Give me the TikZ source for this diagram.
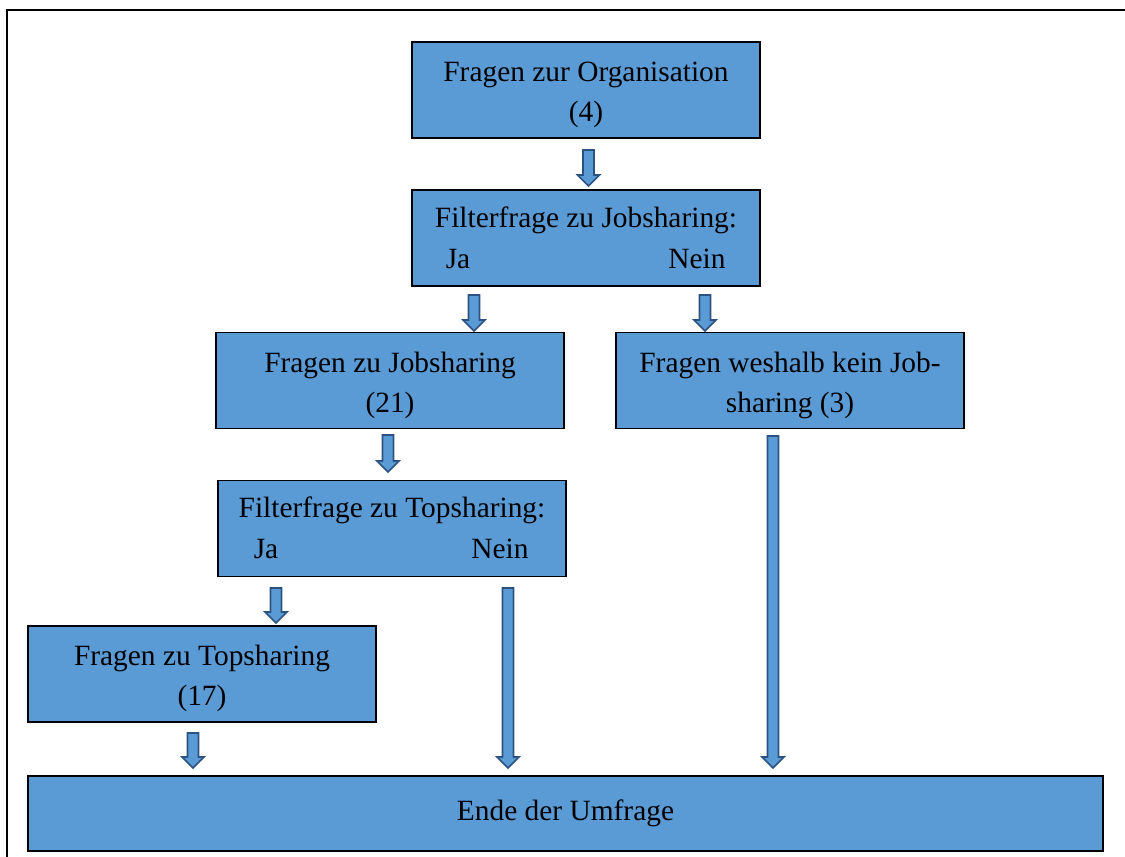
\documentclass[tikz,border=0pt]{standalone}
\usepackage{fontspec}
\setmainfont{Liberation Serif}
\usetikzlibrary{calc}
\definecolor{boxblue}{RGB}{91,155,213}
\definecolor{arrowedge}{RGB}{44,82,130}
\newcommand{\topgap}{\rule{0pt}{15pt}}
\newcommand{\blockarrow}[2]{%
  \draw[arrowshape] ($(#1)+(-5.5,0)$) -- ($(#2)+(-5.5,-11)$) -- ($(#2)+(-11,-11)$) -- (#2)
    -- ($(#2)+(11,-11)$) -- ($(#2)+(5.5,-11)$) -- ($(#1)+(5.5,0)$) -- cycle;}

\begin{document}
\begin{tikzpicture}[x=0.5pt,y=-0.5pt,
    every node/.style={font=\fontsize{14.7}{20}\selectfont},
    qbox/.style={draw=black, line width=0.6pt, fill=boxblue, minimum width=174pt, minimum height=48pt, align=center, inner sep=0pt},
    arrowshape/.style={draw=arrowedge, line width=0.8pt, fill=boxblue, line join=miter}]
\useasboundingbox (0,0) rectangle (1125,857);
\draw[line width=1pt] (1125,10) -- (7,10) -- (7,857);

\node[qbox] (org)    at (586,90)    {\topgap Fragen zur Organisation\\(4)};
\node[qbox] (fjob)   at (586,238)   {};
\node       (fjobq)  at (586,220)   {Filterfrage zu Jobsharing:};
\node       (fjobja) at (458,259)   {Ja};
\node       (fjobnein) at (697,259) {Nein};
\node[qbox] (job)    at (390,380.5) {\topgap Fragen zu Jobsharing\\(21)};
\node[qbox] (nojob)  at (790,380.5) {\topgap Fragen weshalb kein Job-\\sharing (3)};
\node[qbox] (ftop)   at (392,528.5) {};
\node       (ftopq)  at (392,510)   {Filterfrage zu Topsharing:};
\node       (ftopja) at (266,549)   {Ja};
\node       (ftopnein) at (500,549) {Nein};
\node[qbox] (top)    at (202,674)   {\topgap Fragen zu Topsharing\\(17)};
\node[qbox, minimum width=537.5pt, minimum height=37.5pt] (end) at (565.5,813.5) {Ende der Umfrage};

\foreach \n/\x/\ya/\yb in {1/588.5/150/186, 2/474/295/331, 3/705/295/331, 4/388/435/472,
    5/276/588/623, 6/508/588/768, 7/773/436/768, 8/193/733/768}{
  \coordinate (s\n) at (\x,\ya);
  \coordinate (t\n) at (\x,\yb);
  \blockarrow{s\n}{t\n}
}
\end{tikzpicture}
\end{document}
